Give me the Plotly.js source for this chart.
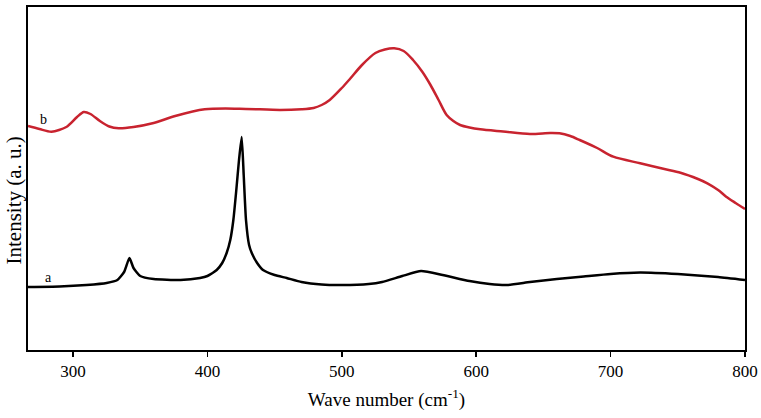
<!DOCTYPE html>
<html>
<head>
<meta charset="utf-8">
<script src="https://cdn.plot.ly/plotly-3.0.1.min.js"></script>
<style>
  html, body { margin: 0; padding: 0; background: #fff; }
  #plot { width: 761px; height: 418px; }
</style>
</head>
<body>
<div id="plot"></div>
<script>
// spectrum a (black)
var waveA = [266.5, 290, 310, 325, 333, 338, 342, 345, 350, 360, 380, 394.5, 400, 406.9, 411, 414.3, 417, 419.3, 421.5, 423.5, 425.5, 427, 428.7, 431, 433, 437, 441.4, 450, 459, 470, 485, 500, 520, 530, 545, 559, 575, 595, 610, 623, 640, 660, 680, 700, 722, 750, 780, 800];
var intA = [63, 63.5, 65, 67, 70, 78, 92, 82, 74, 71, 70, 72, 74, 80, 87, 97, 110, 130, 160, 190, 213, 175, 130, 105, 97, 87, 80, 75, 72, 68, 65.5, 65, 66, 68, 74, 79, 75, 69, 66, 65, 68, 71, 73.5, 76, 77.5, 76, 73, 70];

// spectrum b (red)
var waveB = [266.5, 275, 284, 295, 303, 308, 313, 320, 327, 334, 345, 360, 376, 398, 424, 454, 470, 479, 485, 491, 500, 506, 515, 525, 532, 539, 546, 553, 560, 566, 572, 578, 583, 588, 595, 603, 620, 640, 655, 662, 670, 677, 690, 702, 722, 740, 752, 765, 772, 780, 786, 793, 800];
var intB = [224, 221, 218.3, 223, 233, 238, 236, 229, 223.5, 221.7, 223, 227, 234, 240.7, 241.3, 240, 240.7, 242, 245, 250, 262, 271, 285, 297, 300.5, 301.7, 299, 290, 278, 265, 250, 235, 229, 225, 222.5, 220.7, 218.5, 216, 217, 216.7, 214, 210, 202, 193.3, 186.7, 181, 177.3, 171, 166.7, 160, 153.3, 147, 141];

var serif = "Liberation Serif, Times New Roman, serif";

var traceA = {
  x: waveA, y: intA, type: "scatter", mode: "lines", name: "a",
  line: { color: "#000000", width: 2.5, shape: "spline", smoothing: 0.5 }
};
var traceB = {
  x: waveB, y: intB, type: "scatter", mode: "lines", name: "b",
  line: { color: "#c8232f", width: 2.5, shape: "spline", smoothing: 0.8 }
};

var layout = {
  width: 761, height: 418,
  margin: { l: 28, r: 16, t: 7, b: 68 },
  showlegend: false,
  paper_bgcolor: "#fff", plot_bgcolor: "#fff",
  font: { family: serif, color: "#000", size: 14 },
  xaxis: {
    range: [266.5, 800], tickvals: [300, 400, 500, 600, 700, 800],
    ticks: "outside", ticklen: 5, tickwidth: 1.5, tickcolor: "#000",
    showgrid: false, zeroline: false,
    showline: true, linecolor: "#000", linewidth: 2, mirror: true,
    tickfont: { family: serif, size: 17 },
    title: { text: "Wave number (cm<sup>-1</sup>)", font: { family: serif, size: 19 }, standoff: 12 }
  },
  yaxis: {
    range: [0, 343], showticklabels: false, ticks: "",
    showgrid: false, zeroline: false,
    showline: true, linecolor: "#000", linewidth: 2, mirror: true
  },
  annotations: [
    // y title sits a bit below the middle in the original
    { xref: "paper", yref: "paper", x: -0.019, y: 0.437, xanchor: "center", yanchor: "middle",
      textangle: -90, text: "Intensity (a. u.)", showarrow: false, font: { family: serif, size: 21 } },
    { x: 278.4, y: 231, text: "b", showarrow: false, font: { family: serif, size: 14 } },
    { x: 282, y: 73, text: "a", showarrow: false, font: { family: serif, size: 14 } }
  ]
};

Plotly.newPlot("plot", [traceA, traceB], layout, { staticPlot: true });
</script>
</body>
</html>
